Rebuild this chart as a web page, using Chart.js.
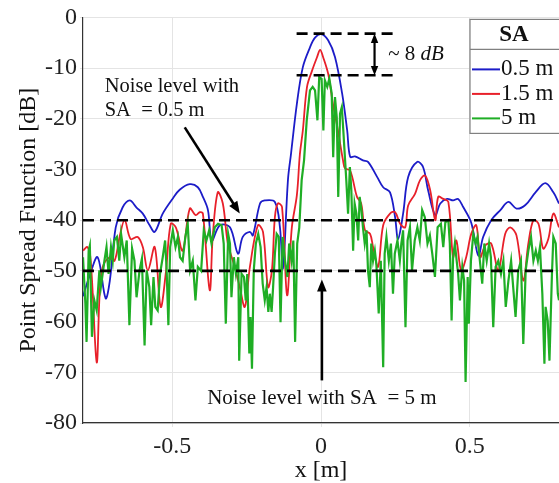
<!DOCTYPE html>
<html>
<head>
<meta charset="utf-8">
<script src="https://cdn.jsdelivr.net/npm/chart.js@4.4.1/dist/chart.umd.min.js"></script>
<style>
  body { margin: 0; background: #fff; }
  canvas { display: block; }
</style>
</head>
<body>
<canvas id="psfChart" width="559" height="483"></canvas>
<script>
// Point spread function for three synthetic apertures (x in m, PSF in dB)
const blueX = [-0.80, -0.778, -0.751, -0.724, -0.710, -0.690, -0.667, -0.643, -0.620, -0.599,
  -0.576, -0.559, -0.532, -0.498, -0.475, -0.441, -0.414, -0.397, -0.380, -0.367,
  -0.340, -0.306, -0.279, -0.263, -0.239, -0.229, -0.205, -0.189, -0.155, -0.138,
  -0.128, -0.111, -0.101, -0.081, -0.061, -0.037, -0.020, 0.0, 0.024, 0.047,
  0.071, 0.088, 0.098, 0.114, 0.141, 0.158, 0.189, 0.209, 0.232, 0.249,
  0.259, 0.276, 0.293, 0.323, 0.343, 0.360, 0.384, 0.401, 0.424, 0.444,
  0.461, 0.478, 0.505, 0.529, 0.545, 0.572, 0.603, 0.630, 0.657, 0.687,
  0.721, 0.754, 0.781, 0.80];
const blueY = [-55, -51, -47.3, -55.4, -52, -41.4, -37.5, -36.1, -37.5, -38.7,
  -41, -42.3, -38.7, -35.7, -34, -32.9, -33.5, -35.4, -38, -44,
  -41, -41.4, -46.6, -43.3, -42.3, -43, -36.7, -36.1, -36.4, -41.4,
  -49.5, -32, -27, -17, -9.8, -5.9, -4.0, -3.3, -4.5, -7.8,
  -15, -22.3, -27.5, -27.4, -28.2, -28.5, -31.5, -33.5, -34.5, -39.4,
  -43.7, -38.7, -31.5, -28.5, -29.5, -34.1, -39, -36.7, -35.8, -36.1,
  -35.8, -37.4, -40.5, -47, -43.3, -40, -38, -36.4, -37.7, -37,
  -34.5, -32.7, -34.5, -36.7];

const redX = [-0.80, -0.785, -0.774, -0.754, -0.744, -0.734, -0.710, -0.694, -0.677, -0.660,
  -0.640, -0.616, -0.599, -0.582, -0.559, -0.539, -0.522, -0.505, -0.488, -0.465,
  -0.441, -0.421, -0.407, -0.397, -0.374, -0.364, -0.347, -0.330, -0.313, -0.290,
  -0.273, -0.256, -0.239, -0.212, -0.195, -0.178, -0.165, -0.155, -0.145, -0.131,
  -0.114, -0.098, -0.081, -0.071, -0.061, -0.047, -0.030, -0.013, -0.003, 0.007,
  0.024, 0.040, 0.057, 0.074, 0.081, 0.098, 0.121, 0.135, 0.148, 0.165,
  0.175, 0.192, 0.209, 0.232, 0.249, 0.266, 0.283, 0.293, 0.316, 0.333,
  0.350, 0.367, 0.384, 0.394, 0.411, 0.428, 0.444, 0.455, 0.471, 0.488,
  0.505, 0.522, 0.535, 0.552, 0.572, 0.596, 0.619, 0.636, 0.657, 0.680,
  0.697, 0.714, 0.731, 0.747, 0.764, 0.781, 0.80];
const redY = [-46, -45.3, -48, -68, -54.5, -49.3, -47.3, -48, -43.3, -40,
  -43.7, -43.3, -45.3, -49.9, -45.3, -57.1, -50.6, -40.7, -41.4, -46,
  -37.7, -39, -38.4, -38.7, -53.8, -43.3, -34.5, -36.7, -44.6, -49.2,
  -53.2, -57.1, -49.2, -41, -42.3, -53.2, -49.9, -39.4, -36.7, -37.4,
  -54.8, -41.4, -35, -27, -22.3, -13.7, -10.5, -7.8, -6.4, -7.8,
  -11.1, -17, -22.3, -28.2, -29.8, -30.2, -35.4, -36.7, -42, -42.7,
  -45.3, -49.2, -41, -38.7, -38.4, -40.7, -41.4, -37.1, -34.8, -32.1,
  -31.2, -34.1, -40, -35.4, -35.8, -36.4, -47.3, -44, -49.9, -47.3,
  -42.7, -41, -47.3, -45, -44.6, -49.9, -42.7, -41.4, -43, -51.9,
  -44.6, -40, -40.7, -45.6, -43.7, -38.7, -41.4];

const greenX = [-0.800, -0.792, -0.788, -0.781, -0.777, -0.770, -0.762, -0.754, -0.745, -0.740,
  -0.728, -0.721, -0.714, -0.706, -0.700, -0.695, -0.686, -0.678, -0.672, -0.661,
  -0.653, -0.644, -0.635, -0.627, -0.620, -0.610, -0.602, -0.593, -0.586, -0.577,
  -0.571, -0.563, -0.557, -0.549, -0.541, -0.532, -0.524, -0.519, -0.513, -0.507,
  -0.498, -0.489, -0.481, -0.474, -0.465, -0.456, -0.448, -0.440, -0.431, -0.422,
  -0.414, -0.403, -0.394, -0.385, -0.376, -0.368, -0.357, -0.346, -0.334, -0.327,
  -0.320, -0.312, -0.306, -0.301, -0.293, -0.286, -0.278, -0.275, -0.267, -0.259,
  -0.253, -0.248, -0.241, -0.237, -0.232, -0.226, -0.219, -0.211, -0.203, -0.196,
  -0.189, -0.183, -0.177, -0.172, -0.166, -0.161, -0.155, -0.149, -0.142, -0.136,
  -0.129, -0.121, -0.113, -0.107, -0.099, -0.093, -0.087, -0.080, -0.073, -0.065,
  -0.057, -0.048, -0.037, -0.028, -0.020, -0.012, -0.006, 0.002, 0.008, 0.013,
  0.021, 0.028, 0.036, 0.041, 0.047, 0.053, 0.058, 0.064, 0.070, 0.075,
  0.081, 0.085, 0.091, 0.097, 0.102, 0.108, 0.113, 0.119, 0.125, 0.130,
  0.136, 0.141, 0.147, 0.153, 0.158, 0.164, 0.169, 0.175, 0.181, 0.186,
  0.194, 0.201, 0.209, 0.214, 0.220, 0.228, 0.235, 0.242, 0.248, 0.257,
  0.265, 0.270, 0.276, 0.284, 0.291, 0.299, 0.306, 0.315, 0.324, 0.332,
  0.340, 0.349, 0.358, 0.366, 0.374, 0.383, 0.392, 0.403, 0.411, 0.418,
  0.428, 0.433, 0.439, 0.444, 0.450, 0.456, 0.461, 0.467, 0.475, 0.481,
  0.486, 0.493, 0.497, 0.504, 0.512, 0.520, 0.526, 0.534, 0.542, 0.549,
  0.557, 0.565, 0.571, 0.579, 0.587, 0.596, 0.605, 0.613, 0.621, 0.630,
  0.639, 0.646, 0.654, 0.663, 0.672, 0.680, 0.688, 0.697, 0.706, 0.714,
  0.722, 0.729, 0.736, 0.744, 0.751, 0.755, 0.762, 0.768, 0.776, 0.781,
  0.789, 0.796, 0.800];
const greenY = [-47.3, -56.5, -64, -46, -45, -63, -55.8, -57.8, -49.9, -53.2,
  -48, -45.3, -50.6, -45.3, -48, -44, -43.3, -48, -42.7, -47.3,
  -44, -60.7, -45.6, -48, -55.2, -49.9, -47.6, -64.7, -49.9, -53.2,
  -60.7, -51.2, -57.1, -57.8, -50.6, -47.3, -44, -49.6, -60.7, -45.3,
  -42, -45.3, -43.3, -47.3, -48, -43.3, -40.7, -49.9, -48, -55.8,
  -49.2, -50, -42, -44, -42, -44.6, -41.4, -40.7, -41, -44.6,
  -60.4, -42.7, -44.6, -55.2, -47.3, -50.6, -47.3, -67.7, -50.6, -51.2,
  -55.8, -50.6, -66.3, -59.1, -69.3, -49.9, -44.6, -42.7, -45.3, -52.5,
  -55.8, -53.2, -58.1, -54.5, -58.1, -53.2, -46.6, -42.7, -43.3, -60.1,
  -43.3, -48, -51.2, -44.6, -48, -44, -64, -44.6, -41.4, -32.1,
  -28.2, -20.3, -14.4, -13.7, -14.4, -20.3, -11.8, -12.1, -22.3, -12.4,
  -13.7, -12.1, -15, -27.6, -15.7, -19.7, -35.4, -19, -17.7, -22.3,
  -28.2, -32.1, -38.7, -29.5, -34.1, -46, -36.7, -38.7, -44, -35.4,
  -38, -41.4, -44.6, -42, -49.9, -53.2, -44.6, -48, -46, -48.6,
  -58.4, -48, -69, -46.6, -43.3, -48, -44.6, -54.5, -46.6, -44,
  -48, -44.6, -42, -61.1, -44, -41.4, -49.9, -44, -41.4, -44,
  -38, -39.4, -44.6, -43, -46.6, -51.2, -41.4, -40.7, -45.3, -40.4,
  -40, -44.6, -59.8, -47.3, -44.6, -48, -50.6, -55.8, -49.2, -51.9,
  -71.9, -51.2, -60.4, -48, -42.7, -44.6, -43.3, -48, -52.5, -44.6,
  -48, -44.6, -47.3, -61.1, -49.2, -48, -50.6, -48, -57.1, -51.9,
  -48, -53.2, -59.1, -49.9, -48, -64.4, -49.9, -46, -43.3, -48,
  -46, -48, -45.3, -54.5, -68.3, -57.1, -59.8, -67.7, -51.2, -43.3,
  -44.6, -54.5, -55.8];

const xTicks = [-0.5, 0, 0.5];
const seriesLabels = ['0.5 m', '1.5 m', '5 m'];
const seriesColors = ['#1c1cc8', '#e8202a', '#1fae25'];
const noiseLevels = [-40, -50];          // dB, dashed reference lines
const peakLevels = [-3.2, -11.4];        // dB, ~8 dB peak gap
const peakSpan = [-0.082, 0.26];         // x range of the short dashed lines

const FONT = '"Liberation Serif", "Times New Roman", serif';

function toPoints(xs, ys) {
    return xs.map((x, i) => ({ x: x, y: ys[i] }));
}

function drawArrowHead(ctx, x0, y0, x1, y1, size) {
    const a = Math.atan2(y1 - y0, x1 - x0);
    ctx.beginPath();
    ctx.moveTo(x1, y1);
    ctx.lineTo(x1 - size * Math.cos(a - 0.38), y1 - size * Math.sin(a - 0.38));
    ctx.lineTo(x1 - size * Math.cos(a + 0.38), y1 - size * Math.sin(a + 0.38));
    ctx.closePath();
    ctx.fill();
}

function drawArrow(ctx, x0, y0, x1, y1) {
    const a = Math.atan2(y1 - y0, x1 - x0);
    ctx.beginPath();
    ctx.moveTo(x0, y0);
    ctx.lineTo(x1 - 6 * Math.cos(a), y1 - 6 * Math.sin(a));
    ctx.stroke();
    drawArrowHead(ctx, x0, y0, x1, y1, 13);
}

// Dashed levels, arrows, notes and the boxed legend
const annotationPlugin = {
    id: 'psfAnnotations',
    afterDatasetsDraw(chart) {
        const { ctx, chartArea } = chart;
        const xs = chart.scales.x;
        const ys = chart.scales.y;
        const px = v => xs.getPixelForValue(v);
        const py = v => ys.getPixelForValue(v);

        ctx.save();
        ctx.strokeStyle = '#000';
        ctx.fillStyle = '#000';
        ctx.lineWidth = 2.6;
        ctx.setLineDash([11, 6]);
        noiseLevels.forEach(v => {
            ctx.beginPath();
            ctx.moveTo(chartArea.left, py(v));
            ctx.lineTo(chartArea.right, py(v));
            ctx.stroke();
        });
        peakLevels.forEach(v => {
            ctx.beginPath();
            ctx.moveTo(px(peakSpan[0]), py(v));
            ctx.lineTo(px(peakSpan[1]), py(v));
            ctx.stroke();
        });
        ctx.setLineDash([]);

        // double arrow between the two peak levels
        ctx.lineWidth = 2.2;
        const ax = px(0.18);
        ctx.beginPath();
        ctx.moveTo(ax, py(peakLevels[0]) + 6);
        ctx.lineTo(ax, py(peakLevels[1]) - 6);
        ctx.stroke();
        drawArrowHead(ctx, ax, py(peakLevels[1]), ax, py(peakLevels[0]), 10);
        drawArrowHead(ctx, ax, py(peakLevels[0]), ax, py(peakLevels[1]), 10);

        // noise level arrows
        ctx.lineWidth = 2.6;
        drawArrow(ctx, px(-0.458), py(-21.7), px(-0.273), py(-38.7));
        drawArrow(ctx, px(0.003), py(-71.6), px(0.003), py(-51.7));

        // notes
        ctx.textBaseline = 'middle';
        ctx.textAlign = 'left';
        ctx.fillStyle = '#111';
        ctx.font = '20.5px ' + FONT;
        ctx.fillText('Noise level with', px(-0.727), py(-13.6));
        ctx.fillText('SA  = 0.5 m', px(-0.727), py(-18.3));
        ctx.font = '21px ' + FONT;
        ctx.textAlign = 'center';
        ctx.fillText('Noise level with SA  = 5 m', px(0.003), py(-75.1));

        ctx.textAlign = 'left';
        ctx.font = '21px ' + FONT;
        let tx = px(0.226);
        const ty = py(-7.3);
        ctx.fillText('~ 8 ', tx, ty);
        tx += ctx.measureText('~ 8 ').width;
        ctx.font = 'italic 21px ' + FONT;
        ctx.fillText('dB', tx, ty);

        // legend box
        const lx = chartArea.right - 89;
        const ly = chartArea.top + 2;
        ctx.fillStyle = '#fff';
        ctx.fillRect(lx, ly, 100, 114);
        ctx.strokeStyle = '#808080';
        ctx.lineWidth = 1.2;
        ctx.strokeRect(lx, ly, 100, 114);
        ctx.beginPath();
        ctx.moveTo(lx, ly + 30);
        ctx.lineTo(lx + 100, ly + 30);
        ctx.stroke();

        ctx.fillStyle = '#111';
        ctx.font = 'bold 23px ' + FONT;
        ctx.textAlign = 'center';
        ctx.fillText('SA', lx + 44, ly + 16);

        ctx.textAlign = 'left';
        ctx.font = '23px ' + FONT;
        seriesLabels.forEach((label, i) => {
            const rowY = ly + 50 + i * 24.5;
            ctx.strokeStyle = seriesColors[i];
            ctx.lineWidth = 2;
            ctx.beginPath();
            ctx.moveTo(lx + 2, rowY);
            ctx.lineTo(lx + 30, rowY);
            ctx.stroke();
            ctx.fillText(label, lx + 31, rowY);
        });
        ctx.restore();
    }
};

const datasets = [
    { label: seriesLabels[0], data: toPoints(blueX, blueY), borderColor: seriesColors[0], borderWidth: 1.8, tension: 0.35, order: 3 },
    { label: seriesLabels[1], data: toPoints(redX, redY), borderColor: seriesColors[1], borderWidth: 1.8, tension: 0.35, order: 2 },
    { label: seriesLabels[2], data: toPoints(greenX, greenY), borderColor: seriesColors[2], borderWidth: 2.2, tension: 0, order: 1 }
];

const chart = new Chart(document.getElementById('psfChart'), {
    type: 'line',
    data: { datasets: datasets },
    options: {
        responsive: false,
        animation: false,
        layout: { padding: { top: 17, right: 0, bottom: 0, left: 0 } },
        elements: { point: { radius: 0 } },
        plugins: {
            legend: { display: false },
            tooltip: { enabled: false }
        },
        scales: {
            x: {
                type: 'linear',
                min: -0.8,
                max: 0.8,
                afterBuildTicks: scale => { scale.ticks = xTicks.map(v => ({ value: v })); },
                afterFit: scale => { scale.height = 60; },
                ticks: { color: '#222', font: { family: FONT, size: 24 }, padding: 5 },
                grid: { color: '#e4e4e4', lineWidth: 1, tickLength: 4 },
                border: { color: '#333', width: 1.2 },
                title: { display: true, text: 'x [m]', color: '#111', font: { family: FONT, size: 24, lineHeight: 1 }, padding: 0 }
            },
            y: {
                min: -80,
                max: 0,
                ticks: { stepSize: 10, color: '#222', font: { family: FONT, size: 24 }, padding: 3 },
                afterFit: scale => { scale.width = 83; },
                grid: { color: '#e4e4e4', lineWidth: 1, tickLength: 3 },
                border: { color: '#333', width: 1.2 },
                title: { display: true, text: 'Point Spread Function [dB]', color: '#111', font: { family: FONT, size: 24, lineHeight: 1 }, padding: { top: 17, bottom: 0 } }
            }
        }
    },
    plugins: [annotationPlugin]
});
</script>
</body>
</html>
